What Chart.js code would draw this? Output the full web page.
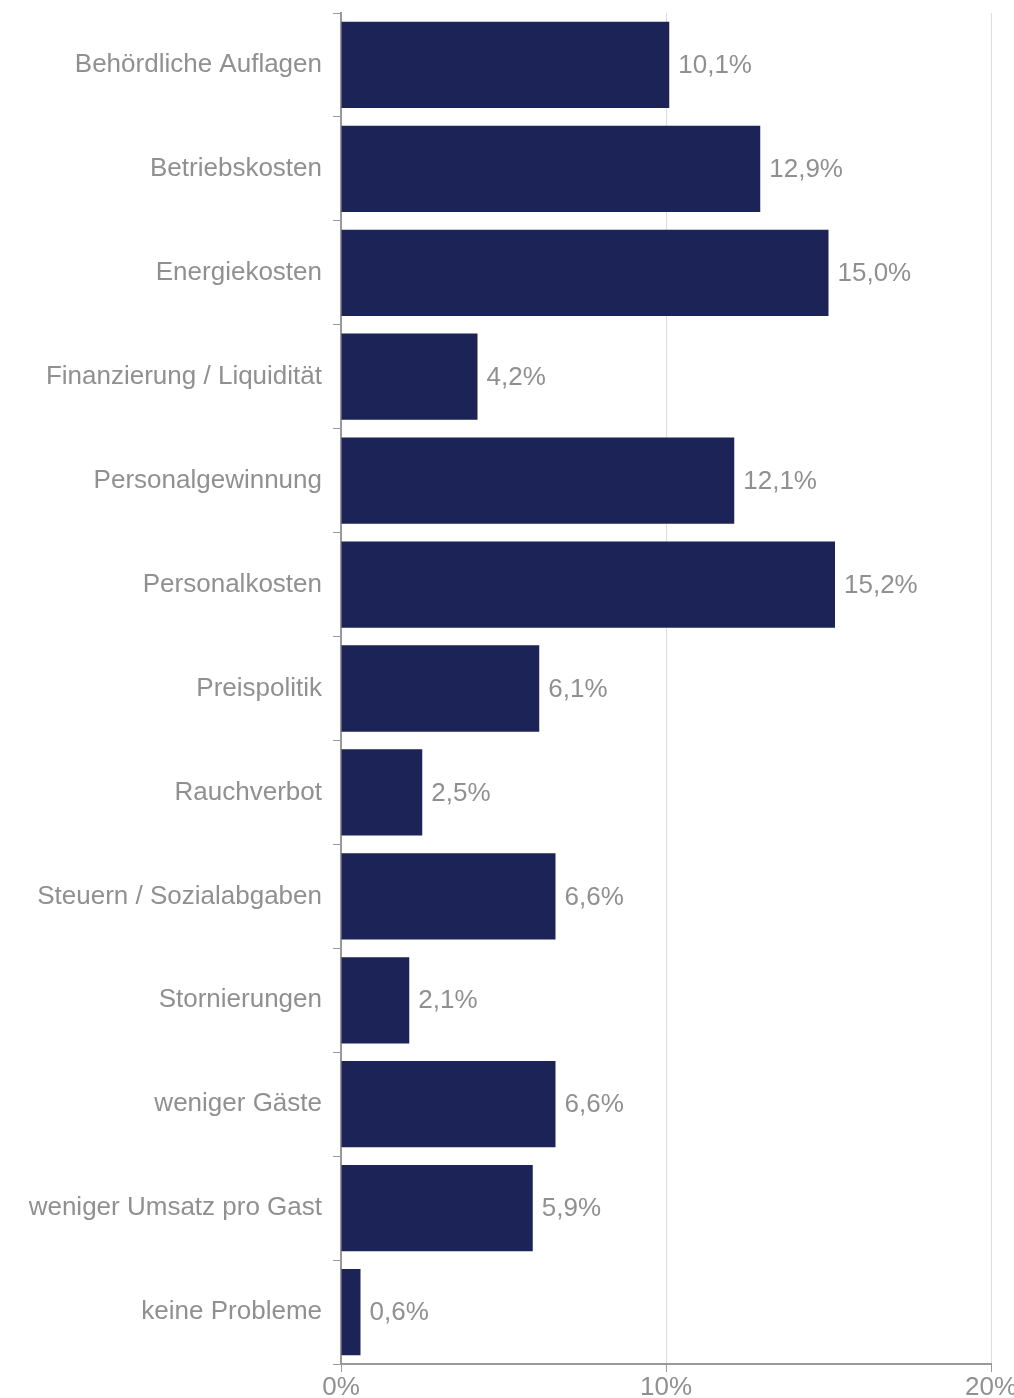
<!DOCTYPE html>
<html>
<head>
<meta charset="utf-8">
<script src="https://cdn.jsdelivr.net/npm/chart.js@4"></script>
<style>
  html, body { margin: 0; padding: 0; background: #fff; }
  #wrap { width: 1014px; height: 1398px; }
</style>
</head>
<body>
<div id="wrap"><canvas id="chart"></canvas></div>
<script>
const kategorien = [
    'Behördliche Auflagen',
    'Betriebskosten',
    'Energiekosten',
    'Finanzierung / Liquidität',
    'Personalgewinnung',
    'Personalkosten',
    'Preispolitik',
    'Rauchverbot',
    'Steuern / Sozialabgaben',
    'Stornierungen',
    'weniger Gäste',
    'weniger Umsatz pro Gast',
    'keine Probleme'
];
const anteile = [10.1, 12.9, 15.0, 4.2, 12.1, 15.2, 6.1, 2.5, 6.6, 2.1, 6.6, 5.9, 0.6];
const xTicks = [0, 10, 20];

const textFarbe = '#909090';
const schrift = { family: '"Liberation Sans", Arial, sans-serif', size: 26 };

function format(v) {
    return v.toFixed(1).replace('.', ',') + '%';
}

// Werte rechts neben die Balken schreiben
const wertLabels = {
    id: 'wertLabels',
    afterDatasetsDraw(chart) {
        const ctx = chart.ctx;
        const meta = chart.getDatasetMeta(0);
        ctx.save();
        ctx.font = schrift.size + 'px ' + schrift.family;
        ctx.fillStyle = textFarbe;
        ctx.textAlign = 'left';
        ctx.textBaseline = 'middle';
        meta.data.forEach((bar, i) => {
            ctx.fillText(format(anteile[i]), bar.x + 9, bar.y + 1);
        });
        ctx.restore();
    }
};

const ctx = document.getElementById('chart').getContext('2d');
new Chart(ctx, {
    type: 'bar',
    data: {
        labels: kategorien,
        datasets: [{
            data: anteile,
            backgroundColor: '#1b2357',
            barPercentage: 0.83,
            categoryPercentage: 1
        }]
    },
    options: {
        indexAxis: 'y',
        responsive: true,
        maintainAspectRatio: false,
        animation: false,
        layout: { padding: { top: 13, right: 23, left: 0, bottom: 0 } },
        plugins: {
            legend: { display: false },
            tooltip: { enabled: false }
        },
        scales: {
            x: {
                min: 0,
                max: 20,
                afterBuildTicks: scale => {
                    scale.ticks = xTicks.map(v => ({ value: v }));
                },
                afterFit: scale => {
                    scale.height = 34;
                    scale.paddingLeft = 0;
                    scale.paddingRight = 0;
                },
                ticks: {
                    color: textFarbe,
                    font: schrift,
                    padding: 0,
                    callback: v => v + '%'
                },
                grid: {
                    color: '#dddddd',
                    tickColor: '#999999',
                    tickLength: 8,
                    lineWidth: 1
                },
                border: { color: '#999999', width: 2 }
            },
            y: {
                afterFit: scale => {
                    scale.width = 341;
                    scale.paddingTop = 0;
                    scale.paddingBottom = 0;
                },
                ticks: {
                    color: textFarbe,
                    font: schrift,
                    padding: 11
                },
                grid: {
                    offset: true,
                    drawOnChartArea: false,
                    tickColor: '#999999',
                    tickLength: 8
                },
                border: { color: '#999999', width: 2 }
            }
        }
    },
    plugins: [wertLabels]
});
</script>
</body>
</html>
